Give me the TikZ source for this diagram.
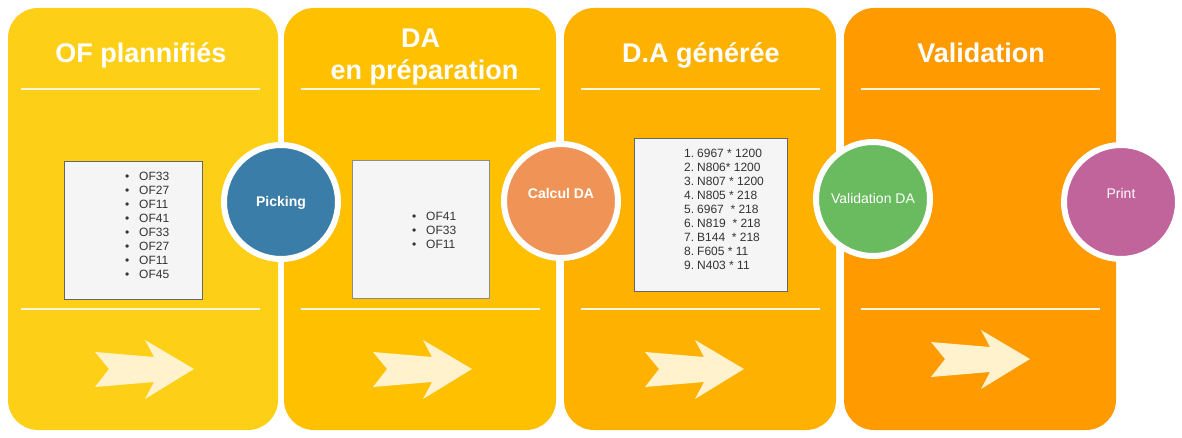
\documentclass[tikz,border=0pt]{standalone}
\usepackage{fontspec}
\setmainfont{Liberation Sans}
\definecolor{pone}{HTML}{FDD017}
\definecolor{ptwo}{HTML}{FFC000}
\definecolor{pthree}{HTML}{FFB100}
\definecolor{pfour}{HTML}{FF9A00}
\definecolor{cblue}{HTML}{3A7DA8}
\definecolor{corange}{HTML}{EF9456}
\definecolor{cgreen}{HTML}{6ABB5F}
\definecolor{cpurple}{HTML}{C0649B}
\definecolor{cream}{HTML}{FFF2CC}
\definecolor{boxfill}{HTML}{F5F5F5}
\definecolor{txtgray}{HTML}{333333}
\tikzset{
  panel/.style={rounded corners=30pt, draw=none},
  sepline/.style={draw=cream!70!white, line width=2pt},
  listbox/.style={draw=#1, fill=boxfill, line width=1pt},
  listtext/.style={anchor=north west, inner sep=0pt, align=left, text=txtgray, font=\fontsize{12}{14}\selectfont},
  title/.style={anchor=base, inner sep=0pt, text=white, font=\bfseries\fontsize{27}{32.4}\selectfont},
  bubble/.style={circle, minimum size=114pt, inner sep=0pt, fill=#1, draw=white, line width=6pt},
  bubbletext/.style={anchor=base, inner sep=0pt, text=white, font=\fontsize{14}{16}\selectfont},
  flowarrow/.style={fill=cream, draw=none}
}
\newcommand{\bul}{\makebox[14pt][l]{\textbullet}}
\newcommand{\num}[1]{\makebox[13pt][l]{#1}}
\begin{document}
\begin{tikzpicture}[x=1pt,y=-1pt]
\useasboundingbox (0,0) rectangle (1182,438);
\fill[white] (0,0) rectangle (1182,438);
% panels
\fill[panel, pone] (8,8) rectangle (278,430);
\fill[panel, ptwo] (284,8) rectangle (556,430);
\fill[panel, pthree] (564,8) rectangle (836,430);
\fill[panel, pfour] (844,8) rectangle (1116,430);
% separator lines
\foreach \dx in {0,280,560,840}{
  \draw[sepline] (21+\dx,89) -- (260+\dx,89);
  \draw[sepline] (21+\dx,309) -- (260+\dx,309);
}
% titles
\node[title] (t1) at (141,63) {OF plannifiés};
\node[title] (t2a) at (420.5,48) {DA};
\node[title] (t2b) at (424.5,80) {en préparation};
\node[title] (t3) at (701,63) {D.A générée};
\node[title] (t4) at (981,63) {Validation};
% list boxes
\draw[listbox=black!60] (64,162) rectangle (202,299);
\node[listtext] (l1) at (125,171.6) {\bul OF33\\\bul OF27\\\bul OF11\\\bul OF41\\\bul OF33\\\bul OF27\\\bul OF11\\\bul OF45};
\draw[listbox=black!45] (352,161) rectangle (489,298);
\node[listtext] (l2) at (412,211.6) {\bul OF41\\\bul OF33\\\bul OF11};
\draw[listbox=black!60] (634,139) rectangle (787,291);
\node[listtext] (l3) at (684,148.6) {\num{1.}6967 * 1200\\\num{2.}N806* 1200\\\num{3.}N807 * 1200\\\num{4.}N805 * 218\\\num{5.}6967~ * 218\\\num{6.}N819~ * 218\\\num{7.}B144~ * 218\\\num{8.}F605 * 11\\\num{9.}N403 * 11};
% flow arrows
\foreach \ax/\ay in {95/352,373/352,645/352,931/342}{
  \fill[flowarrow] (\ax,\ay) -- ++(59,5) -- ++(-9,-17) -- ++(49,29) -- ++(-49,30) -- ++(9,-17) -- ++(-59,5) -- ++(14,-18) -- cycle;
}
% bubbles
\node[bubble=cblue] (pick) at (281,202) {};
\node[bubble=corange] (calc) at (561,201) {};
\node[bubble=cgreen] (valid) at (873,199) {};
\node[bubble=cpurple] (print) at (1121,202) {};
\node[bubbletext, font=\bfseries\fontsize{14}{16}\selectfont] (pickt) at ([yshift=-5pt]pick.center) {Picking};
\node[bubbletext, font=\bfseries\fontsize{14}{16}\selectfont] (calct) at ([yshift=2pt]calc.center) {Calcul DA};
\node[bubbletext] (validt) at ([yshift=-5pt]valid.center) {Validation DA};
\node[bubbletext] (printt) at ([yshift=3pt]print.center) {Print};
\end{tikzpicture}
\end{document}
